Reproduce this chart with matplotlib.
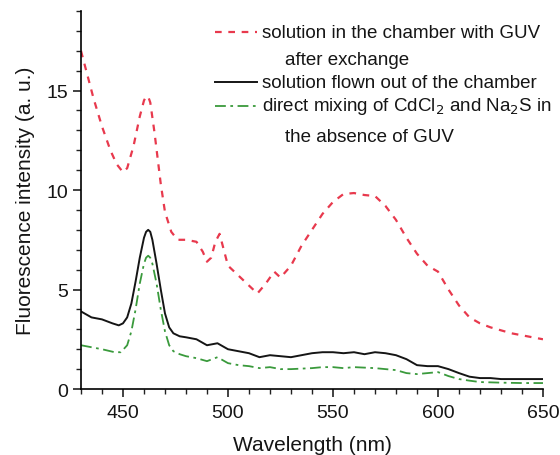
import matplotlib
matplotlib.use("Agg")
import matplotlib.pyplot as plt
from matplotlib.ticker import MultipleLocator

plt.rcParams['font.family'] = ['Liberation Sans', 'DejaVu Sans']

# red: solution in the chamber with GUV after exchange
wl_red = [430, 433, 436, 440, 444, 447, 450, 452, 455, 458, 460, 461, 462, 463, 465, 468,
          470, 473, 476, 480, 485, 488, 490, 492, 494, 496, 498, 500, 505, 510, 514, 518,
          522, 525, 530, 535, 540, 545, 550, 555, 560, 565, 570, 575, 580, 585, 590, 595,
          600, 605, 610, 615, 620, 625, 630, 635, 640, 645, 650]
i_red = [17.0, 15.8, 14.6, 13.2, 12.0, 11.3, 10.9, 11.1, 12.2, 13.7, 14.5, 14.7, 14.7, 14.4, 12.9, 10.3,
         8.9, 7.9, 7.5, 7.5, 7.4, 6.9, 6.4, 6.6, 7.4, 7.8, 7.0, 6.2, 5.7, 5.2, 4.8, 5.3,
         5.9, 5.6, 6.2, 7.2, 8.0, 8.8, 9.4, 9.8, 9.85, 9.75, 9.7, 9.2, 8.5, 7.6, 6.8, 6.2,
         5.9, 5.0, 4.2, 3.6, 3.3, 3.1, 2.95, 2.8, 2.7, 2.6, 2.5]

# black: solution flown out of the chamber
wl_blk = [430, 435, 440, 445, 448, 450, 452, 454, 456, 458, 460, 461, 462, 463, 464, 466,
          468, 470, 472, 474, 477, 480, 485, 490, 495, 500, 505, 510, 515, 520, 525, 530,
          535, 540, 545, 550, 555, 560, 565, 570, 575, 580, 585, 590, 595, 600, 605, 610,
          615, 620, 625, 630, 635, 640, 645, 650]
i_blk = [3.9, 3.6, 3.5, 3.3, 3.2, 3.3, 3.6, 4.3, 5.4, 6.6, 7.6, 7.9, 8.0, 7.9, 7.5, 6.3,
         5.0, 3.8, 3.1, 2.8, 2.65, 2.6, 2.5, 2.2, 2.3, 2.0, 1.9, 1.8, 1.6, 1.7, 1.65, 1.6,
         1.7, 1.8, 1.85, 1.85, 1.8, 1.85, 1.75, 1.85, 1.8, 1.7, 1.5, 1.2, 1.15, 1.15, 1.0, 0.8,
         0.62, 0.55, 0.55, 0.5, 0.5, 0.5, 0.5, 0.5]

# green: direct mixing of CdCl2 and Na2S without GUV
wl_grn = [430, 440, 446, 449, 452, 454, 456, 458, 460, 461, 462, 463, 464, 466, 468, 470,
          472, 474, 477, 480, 485, 490, 495, 500, 505, 510, 515, 520, 525, 530, 540, 545,
          550, 555, 560, 570, 575, 580, 585, 590, 595, 600, 605, 610, 615, 620, 630, 640, 650]
i_grn = [2.2, 2.0, 1.85, 1.85, 2.2, 2.9, 4.0, 5.3, 6.3, 6.6, 6.7, 6.6, 6.3, 5.3, 4.0, 2.9,
         2.2, 1.9, 1.75, 1.65, 1.55, 1.4, 1.6, 1.3, 1.2, 1.15, 1.05, 1.1, 1.0, 1.0, 1.05, 1.1,
         1.1, 1.05, 1.1, 1.05, 1.0, 0.95, 0.8, 0.75, 0.8, 0.85, 0.65, 0.5, 0.42, 0.35, 0.32, 0.3, 0.3]

red = '#e8394d'
green = '#3a9a3c'
ink = '#151515'
red_ls = (0, (3, 3))
green_ls = (0, (6, 2.5, 1.5, 2.5))

fig = plt.figure(figsize=(5.6, 4.56), dpi=100)
ax = fig.add_axes([0.1446, 0.1447, 0.825, 0.829])

ax.plot(wl_red, i_red, color=red, lw=1.6, linestyle=red_ls)
ax.plot(wl_blk, i_blk, color=ink, lw=1.4)
ax.plot(wl_grn, i_grn, color=green, lw=1.3, linestyle=green_ls)

ax.set_xlim(430, 650)
ax.set_ylim(0, 19)
ax.xaxis.set_major_locator(MultipleLocator(50))
ax.xaxis.set_minor_locator(MultipleLocator(10))
ax.yaxis.set_major_locator(MultipleLocator(5))
ax.yaxis.set_minor_locator(MultipleLocator(1))
ax.spines['top'].set_visible(False)
ax.spines['right'].set_visible(False)
for s in ('left', 'bottom'):
    ax.spines[s].set_linewidth(1.2)
ax.tick_params(which='major', length=6, width=1.2, labelsize=14, color='#222222', labelcolor=ink)
ax.tick_params(which='minor', length=3.5, width=1.0, color='#222222')
ax.tick_params(axis='x', pad=5)

ax.set_xlabel('Wavelength (nm)', fontsize=15, labelpad=10, color=ink)
ax.set_ylabel('Fluorescence intensity (a. u.)', fontsize=15, labelpad=8, color=ink)

# legend drawn by hand
fs = 13.5
lx = [0.29, 0.381]
tx = 0.392
rows = [
    (0.944, red, red_ls, 1.6, 'solution in the chamber with GUV'),
    (0.812, ink, '-', 1.4, 'solution flown out of the chamber'),
    (0.749, green, green_ls, 1.3, r'direct mixing of CdCl$_2$ and Na$_2$S in'),
]
for y, c, ls, lw, lab in rows:
    ax.plot(lx, [y, y], color=c, linestyle=ls, lw=lw, transform=ax.transAxes, clip_on=False)
    ax.text(tx, y, lab, fontsize=fs, va='center', ha='left',
            transform=ax.transAxes, color=ink)
ax.text(0.442, 0.873, 'after exchange', fontsize=fs, va='center', ha='left',
        transform=ax.transAxes, color=ink)
ax.text(0.442, 0.669, 'the absence of GUV', fontsize=fs, va='center', ha='left',
        transform=ax.transAxes, color=ink)

fig.savefig('out.png', dpi=100)
